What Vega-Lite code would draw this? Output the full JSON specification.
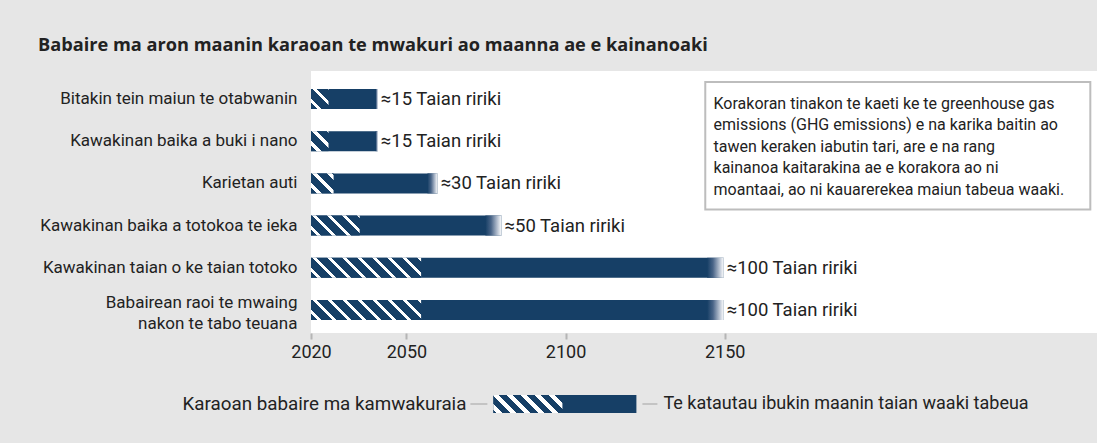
{
  "$schema": "https://vega.github.io/schema/vega-lite/v6.json",
  "background": "#e6e6e6",
  "padding": {"left": 8, "top": 35, "right": 0, "bottom": 32},
  "spacing": 32,
  "config": {
    "font": "Roboto",
    "view": {"stroke": null},
    "axisY": {"labelFont": "Roboto", "labelFontSize": 17, "labelColor": "#222222", "labelPadding": 14, "ticks": false, "domain": false, "grid": false, "labelLimit": 400, "minExtent": 302.6, "maxExtent": 302.6, "labelLineHeight": 21},
    "axisX": {"labelFont": "Roboto", "labelFontSize": 18, "labelColor": "#222222", "labelPadding": 4, "labelFlush": false, "tickSize": 6, "tickWidth": 2, "tickColor": "#b5b5b5", "domain": false, "grid": false, "minExtent": 30, "maxExtent": 30}
  },
  "vconcat": [
    {
      "width": 786,
      "height": 262,
      "view": {"fill": "white", "stroke": null},
      "title": {"text": "Babaire ma aron maanin karaoan te mwakuri ao maanna ae e kainanoaki", "anchor": "start", "frame": "group", "dx": -273, "font": "Open Sans", "fontSize": 18.2, "fontWeight": "bold", "color": "#222222", "offset": 2, "baseline": "alphabetic"},
      "data": {"values": [
        {"task": "Bitakin tein maiun te otabwanin", "start": 2020, "hatchEnd": 2025.5, "solidEnd": 2040.3, "end": 2041, "label": "≈15 Taian ririki"},
        {"task": "Kawakinan baika a buki i nano", "start": 2020, "hatchEnd": 2025.5, "solidEnd": 2040.3, "end": 2041, "label": "≈15 Taian ririki"},
        {"task": "Karietan auti", "start": 2020, "hatchEnd": 2027.1, "solidEnd": 2056.6, "end": 2059.8, "label": "≈30 Taian ririki"},
        {"task": "Kawakinan baika a totokoa te ieka", "start": 2020, "hatchEnd": 2035.3, "solidEnd": 2074.8, "end": 2079.9, "label": "≈50 Taian ririki"},
        {"task": "Kawakinan taian o ke taian totoko", "start": 2020, "hatchEnd": 2054.6, "solidEnd": 2144.5, "end": 2149.7, "label": "≈100 Taian ririki"},
        {"task": "Babairean raoi te mwaing\nnakon te tabo teuana", "start": 2020, "hatchEnd": 2054.6, "solidEnd": 2144.5, "end": 2149.7, "label": "≈100 Taian ririki"}
      ]},
      "encoding": {
        "y": {"field": "task", "type": "nominal", "sort": null, "title": null,
              "scale": {"paddingInner": 0.526, "paddingOuter": 0.3675, "align": 0.58},
              "axis": {"labelExpr": "split(datum.label, '\\n')", "labelOffset": {"condition": {"test": "indexof(datum.value, '\\n') >= 0", "value": -7}, "value": 0}}}
      },
      "layer": [
        {
          "mark": {"type": "bar", "fill": "#163f66"},
          "encoding": {
            "x": {"field": "start", "type": "quantitative", "title": null, "scale": {"domain": [2020, 2267], "nice": false, "zero": false}, "axis": {"values": [2020, 2050, 2100, 2150], "format": "d"}},
            "x2": {"field": "end"}
          }
        },
        {
          "transform": [{"filter": "datum.hatchEnd < 2026"}],
          "mark": {"type": "bar", "fill": {"gradient": "linear", "x1": 0, "y1": 1, "x2": 0.9292, "y2": -0.0619, "stops": [
            {"offset": 0, "color": "#163f66"}, {"offset": 0.16, "color": "#163f66"}, {"offset": 0.16, "color": "#ffffff"}, {"offset": 0.28, "color": "#ffffff"}, {"offset": 0.28, "color": "#163f66"},
            {"offset": 0.56, "color": "#163f66"}, {"offset": 0.56, "color": "#ffffff"}, {"offset": 0.68, "color": "#ffffff"}, {"offset": 0.68, "color": "#163f66"},
            {"offset": 0.96, "color": "#163f66"}, {"offset": 0.96, "color": "#ffffff"}, {"offset": 1, "color": "#ffffff"}]}},
          "encoding": {
            "x": {"field": "start", "type": "quantitative", "title": null, "scale": {"domain": [2020, 2267], "nice": false, "zero": false}},
            "x2": {"field": "hatchEnd"}
          }
        },
        {
          "transform": [{"filter": "datum.hatchEnd > 2026 && datum.hatchEnd < 2030"}],
          "mark": {"type": "bar", "fill": {"gradient": "linear", "x1": 0, "y1": 1, "x2": 1.0571, "y2": 0.0645, "stops": [
            {"offset": 0, "color": "#163f66"}, {"offset": 0.1408, "color": "#163f66"}, {"offset": 0.1408, "color": "#ffffff"}, {"offset": 0.2465, "color": "#ffffff"}, {"offset": 0.2465, "color": "#163f66"},
            {"offset": 0.493, "color": "#163f66"}, {"offset": 0.493, "color": "#ffffff"}, {"offset": 0.5986, "color": "#ffffff"}, {"offset": 0.5986, "color": "#163f66"},
            {"offset": 0.8451, "color": "#163f66"}, {"offset": 0.8451, "color": "#ffffff"}, {"offset": 0.9507, "color": "#ffffff"}, {"offset": 0.9507, "color": "#163f66"}, {"offset": 1, "color": "#163f66"}]}},
          "encoding": {
            "x": {"field": "start", "type": "quantitative", "title": null, "scale": {"domain": [2020, 2267], "nice": false, "zero": false}},
            "x2": {"field": "hatchEnd"}
          }
        },
        {
          "transform": [{"filter": "datum.hatchEnd > 2030 && datum.hatchEnd < 2040"}],
          "mark": {"type": "bar", "fill": {"gradient": "linear", "x1": 0, "y1": 1, "x2": 1.2071, "y2": 0.5043, "stops": [
            {"offset": 0, "color": "#163f66"}, {"offset": 0.0873, "color": "#163f66"}, {"offset": 0.0873, "color": "#ffffff"}, {"offset": 0.1528, "color": "#ffffff"}, {"offset": 0.1528, "color": "#163f66"},
            {"offset": 0.3057, "color": "#163f66"}, {"offset": 0.3057, "color": "#ffffff"}, {"offset": 0.3712, "color": "#ffffff"}, {"offset": 0.3712, "color": "#163f66"},
            {"offset": 0.524, "color": "#163f66"}, {"offset": 0.524, "color": "#ffffff"}, {"offset": 0.5895, "color": "#ffffff"}, {"offset": 0.5895, "color": "#163f66"},
            {"offset": 0.7424, "color": "#163f66"}, {"offset": 0.7424, "color": "#ffffff"}, {"offset": 0.8079, "color": "#ffffff"}, {"offset": 0.8079, "color": "#163f66"},
            {"offset": 0.9607, "color": "#163f66"}, {"offset": 0.9607, "color": "#ffffff"}, {"offset": 1, "color": "#ffffff"}]}},
          "encoding": {
            "x": {"field": "start", "type": "quantitative", "title": null, "scale": {"domain": [2020, 2267], "nice": false, "zero": false}},
            "x2": {"field": "hatchEnd"}
          }
        },
        {
          "transform": [{"filter": "datum.hatchEnd > 2050"}],
          "mark": {"type": "bar", "fill": {"gradient": "linear", "x1": 0, "y1": 1, "x2": 1.1439, "y2": 0.7922, "stops": [
            {"offset": 0, "color": "#163f66"}, {"offset": 0.0461, "color": "#163f66"}, {"offset": 0.0461, "color": "#ffffff"}, {"offset": 0.0807, "color": "#ffffff"}, {"offset": 0.0807, "color": "#163f66"},
            {"offset": 0.1614, "color": "#163f66"}, {"offset": 0.1614, "color": "#ffffff"}, {"offset": 0.196, "color": "#ffffff"}, {"offset": 0.196, "color": "#163f66"},
            {"offset": 0.2767, "color": "#163f66"}, {"offset": 0.2767, "color": "#ffffff"}, {"offset": 0.3113, "color": "#ffffff"}, {"offset": 0.3113, "color": "#163f66"},
            {"offset": 0.392, "color": "#163f66"}, {"offset": 0.392, "color": "#ffffff"}, {"offset": 0.4266, "color": "#ffffff"}, {"offset": 0.4266, "color": "#163f66"},
            {"offset": 0.5073, "color": "#163f66"}, {"offset": 0.5073, "color": "#ffffff"}, {"offset": 0.5419, "color": "#ffffff"}, {"offset": 0.5419, "color": "#163f66"},
            {"offset": 0.6226, "color": "#163f66"}, {"offset": 0.6226, "color": "#ffffff"}, {"offset": 0.6572, "color": "#ffffff"}, {"offset": 0.6572, "color": "#163f66"},
            {"offset": 0.7379, "color": "#163f66"}, {"offset": 0.7379, "color": "#ffffff"}, {"offset": 0.7725, "color": "#ffffff"}, {"offset": 0.7725, "color": "#163f66"},
            {"offset": 0.8532, "color": "#163f66"}, {"offset": 0.8532, "color": "#ffffff"}, {"offset": 0.8878, "color": "#ffffff"}, {"offset": 0.8878, "color": "#163f66"},
            {"offset": 0.9685, "color": "#163f66"}, {"offset": 0.9685, "color": "#ffffff"}, {"offset": 1, "color": "#ffffff"}]}},
          "encoding": {
            "x": {"field": "start", "type": "quantitative", "title": null, "scale": {"domain": [2020, 2267], "nice": false, "zero": false}},
            "x2": {"field": "hatchEnd"}
          }
        },
        {
          "mark": {"type": "bar", "fill": {"gradient": "linear", "x1": 0, "y1": 0, "x2": 1, "y2": 0, "stops": [{"offset": 0, "color": "#163f66"}, {"offset": 0.35, "color": "#4a6588"}, {"offset": 0.75, "color": "#b9c3d2"}, {"offset": 1, "color": "#ffffff"}]}},
          "encoding": {
            "x": {"field": "solidEnd", "type": "quantitative", "title": null, "scale": {"domain": [2020, 2267], "nice": false, "zero": false}},
            "x2": {"field": "end"}
          }
        },
        {
          "mark": {"type": "text", "align": "left", "baseline": "middle", "dx": 3, "fontSize": 18.5, "color": "#222222"},
          "encoding": {
            "x": {"field": "end", "type": "quantitative", "title": null, "scale": {"domain": [2020, 2267], "nice": false, "zero": false}},
            "text": {"field": "label"}
          }
        },
        {
          "data": {"values": [{}]},
          "mark": {"type": "rect", "fill": "white", "stroke": "#bdbdbd", "strokeWidth": 2, "yOffset": -17, "y2Offset": -16},
          "encoding": {
            "x": {"datum": 2143.9, "type": "quantitative"},
            "x2": {"datum": 2264.9},
            "y": {"datum": "Bitakin tein maiun te otabwanin", "type": "nominal"},
            "y2": {"datum": "Kawakinan baika a totokoa te ieka"}
          }
        },
        {
          "data": {"values": [{}]},
          "mark": {"type": "text", "align": "left", "baseline": "top", "dy": -3, "font": "Roboto", "fontSize": 16, "fontWeight": "normal", "lineHeight": 21.5, "color": "#222222",
                   "text": ["Korakoran tinakon te kaeti ke te greenhouse gas", "emissions (GHG emissions) e na karika baitin ao", "tawen keraken iabutin tari, are e na rang", "kainanoa kaitarakina ae e korakora ao ni", "moantaai, ao ni kauarerekea maiun tabeua waaki."]},
          "encoding": {
            "x": {"datum": 2146.5, "type": "quantitative"},
            "y": {"datum": "Bitakin tein maiun te otabwanin", "type": "nominal"}
          }
        }
      ]
    },
    {
      "width": 786,
      "height": 18,
      "view": {"fill": null, "stroke": null},
      "data": {"values": [{}]},
      "layer": [
        {
          "mark": {"type": "text", "align": "right", "baseline": "middle", "fontSize": 18.8, "color": "#222222", "text": "Karaoan babaire ma kamwakuraia"},
          "encoding": {
            "x": {"datum": 155.4, "type": "quantitative", "scale": {"domain": [0, 786], "nice": false, "zero": false}, "axis": null},
            "y": {"datum": 0.5, "type": "quantitative", "scale": {"domain": [0, 1], "nice": false}, "axis": null}
          }
        },
        {
          "mark": {"type": "rule", "stroke": "#c4c4c4", "strokeWidth": 2},
          "encoding": {
            "x": {"datum": 159.4, "type": "quantitative"},
            "x2": {"datum": 176.4},
            "y": {"datum": 0.5, "type": "quantitative"}
          }
        },
        {
          "mark": {"type": "rule", "stroke": "#c4c4c4", "strokeWidth": 2},
          "encoding": {
            "x": {"datum": 331.4, "type": "quantitative"},
            "x2": {"datum": 346.4},
            "y": {"datum": 0.5, "type": "quantitative"}
          }
        },
        {
          "mark": {"type": "rect", "fill": "#163f66"},
          "encoding": {
            "x": {"datum": 182.4, "type": "quantitative"},
            "x2": {"datum": 325.4},
            "y": {"datum": 0, "type": "quantitative"},
            "y2": {"datum": 1}
          }
        },
        {
          "mark": {"type": "rect", "fill": {"gradient": "linear", "x1": 0, "y1": 1, "x2": 1.1805, "y2": 0.692, "stops": [
            {"offset": 0, "color": "#163f66"}, {"offset": 0.0345, "color": "#163f66"}, {"offset": 0.0345, "color": "#ffffff"}, {"offset": 0.1092, "color": "#ffffff"}, {"offset": 0.1092, "color": "#163f66"},
            {"offset": 0.1954, "color": "#163f66"}, {"offset": 0.1954, "color": "#ffffff"}, {"offset": 0.2701, "color": "#ffffff"}, {"offset": 0.2701, "color": "#163f66"},
            {"offset": 0.3563, "color": "#163f66"}, {"offset": 0.3563, "color": "#ffffff"}, {"offset": 0.431, "color": "#ffffff"}, {"offset": 0.431, "color": "#163f66"},
            {"offset": 0.5172, "color": "#163f66"}, {"offset": 0.5172, "color": "#ffffff"}, {"offset": 0.592, "color": "#ffffff"}, {"offset": 0.592, "color": "#163f66"},
            {"offset": 0.6782, "color": "#163f66"}, {"offset": 0.6782, "color": "#ffffff"}, {"offset": 0.7529, "color": "#ffffff"}, {"offset": 0.7529, "color": "#163f66"},
            {"offset": 0.8391, "color": "#163f66"}, {"offset": 0.8391, "color": "#ffffff"}, {"offset": 0.9138, "color": "#ffffff"}, {"offset": 0.9138, "color": "#163f66"}, {"offset": 1, "color": "#163f66"}]}},
          "encoding": {
            "x": {"datum": 182.4, "type": "quantitative"},
            "x2": {"datum": 251.4},
            "y": {"datum": 0, "type": "quantitative"},
            "y2": {"datum": 1}
          }
        },
        {
          "mark": {"type": "text", "align": "left", "baseline": "middle", "fontSize": 18, "color": "#222222", "text": "Te katautau ibukin maanin taian waaki tabeua"},
          "encoding": {
            "x": {"datum": 352.4, "type": "quantitative"},
            "y": {"datum": 0.5, "type": "quantitative"}
          }
        }
      ]
    }
  ]
}
